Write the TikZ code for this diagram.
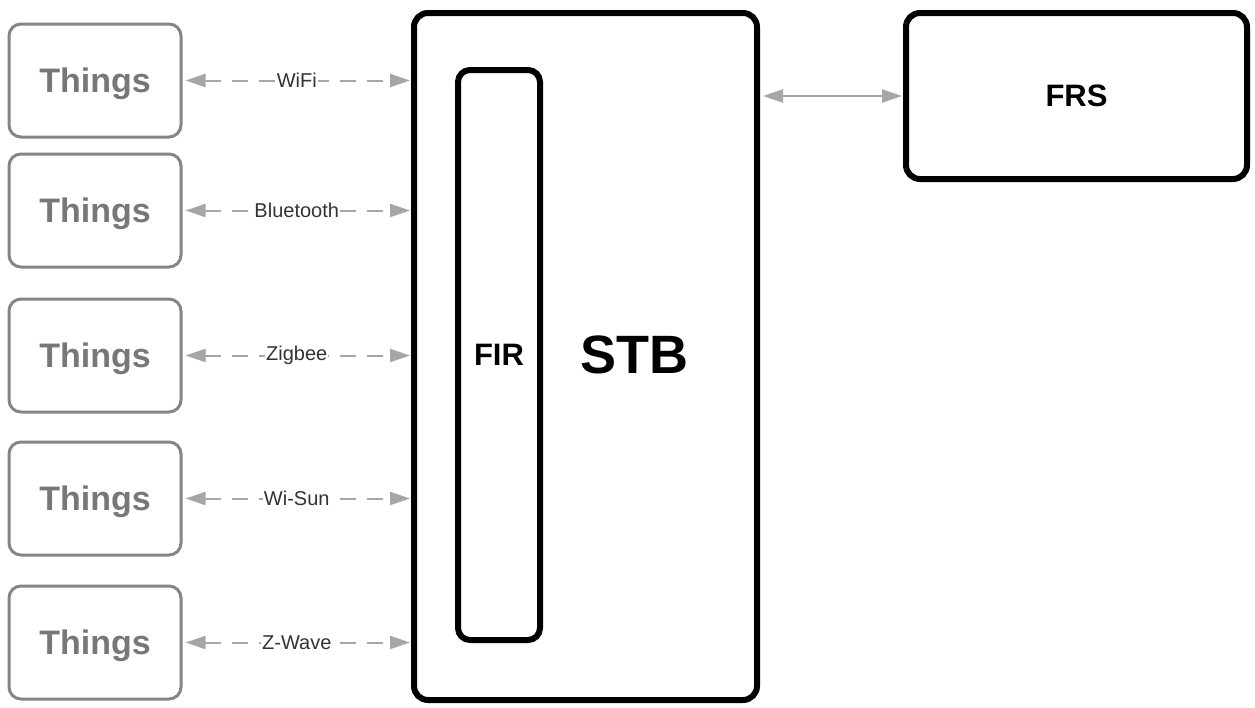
\documentclass[tikz,border=0pt]{standalone}
\usepackage{fontspec}
\setmainfont{Liberation Sans}
\usetikzlibrary{arrows.meta}
\definecolor{thingc}{HTML}{858585}
\definecolor{thingt}{HTML}{777777}
\definecolor{arrc}{HTML}{A6A6A6}
\definecolor{labc}{HTML}{333333}
\begin{document}
\begin{tikzpicture}[x=1pt,y=-1pt,
  thingbox/.style={draw=thingc,line width=3pt,rounded corners=12pt,minimum width=172pt,minimum height=113pt,inner sep=0pt,text depth=0pt,text=thingt,font=\fontsize{34}{36}\selectfont\bfseries},
  bigbox/.style={draw=black,line width=6pt,rounded corners=14pt,inner sep=0pt},
  link/.style={draw=arrc,line width=2pt,dash pattern=on 16pt off 11pt,{Triangle[length=20pt,width=13pt,fill=arrc]}-{Triangle[length=20pt,width=13pt,fill=arrc]},shorten <=3pt,shorten >=1pt},
  linklabel/.style={fill=white,inner sep=1pt,text=labc,font=\fontsize{20}{22}\selectfont},
  solidlink/.style={draw=arrc,line width=2pt,{Triangle[length=20pt,width=13pt,fill=arrc]}-{Triangle[length=20pt,width=13pt,fill=arrc]},shorten <=3pt,shorten >=1pt}
]
\useasboundingbox (0,0) rectangle (1255,707);
\node[thingbox] (t1) at (95,80.5) {Things};
\node[thingbox] (t2) at (95,210.5) {Things};
\node[thingbox] (t3) at (95,355.5) {Things};
\node[thingbox] (t4) at (95,498.5) {Things};
\node[thingbox] (t5) at (95,642.5) {Things};
\node[bigbox,minimum width=343pt,minimum height=687pt] (stb) at (585.5,356.5) {};
\node[font=\fontsize{54}{56}\selectfont\bfseries] (stbl) at (634,355) {STB};
\node[bigbox,rounded corners=12pt,minimum width=82pt,minimum height=570pt,font=\fontsize{31}{34}\selectfont\bfseries] (fir) at (499,355) {FIR};
\node[bigbox,minimum width=341pt,minimum height=166pt,font=\fontsize{31}{34}\selectfont\bfseries] (frs) at (1076.5,96) {FRS};
\draw[link] (t1.east) -- node[linklabel] {WiFi} (t1.east -| stb.west);
\draw[link] (t2.east) -- node[linklabel] {Bluetooth} (t2.east -| stb.west);
\draw[link] (t3.east) -- node[linklabel] {Zigbee} (t3.east -| stb.west);
\draw[link] (t4.east) -- node[linklabel] {Wi-Sun} (t4.east -| stb.west);
\draw[link] (t5.east) -- node[linklabel] {Z-Wave} (t5.east -| stb.west);
\draw[solidlink] (frs.west -| stb.east) -- (frs.west);
\end{tikzpicture}
\end{document}
